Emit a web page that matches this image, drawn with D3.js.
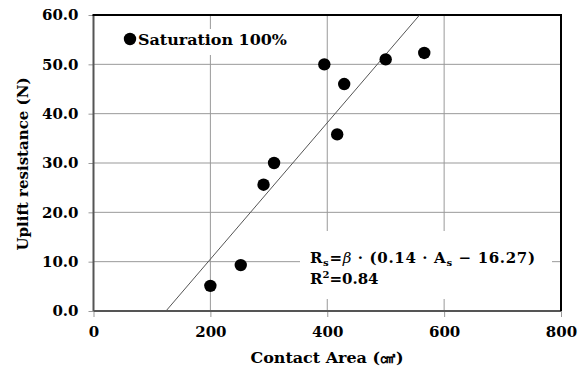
<!DOCTYPE html>
<html>
<head>
<meta charset="utf-8">
<script src="https://cdn.jsdelivr.net/npm/d3@7"></script>
<style>
  html, body { margin: 0; padding: 0; background: #fff; }
  svg { display: block; }
  text { font-family: "DejaVu Serif", "Liberation Serif", serif; font-weight: bold; fill: #000; }
</style>
</head>
<body>
<svg id="chart" width="586" height="372"></svg>
<script>
  // Data
  var contactArea = [200, 252, 291, 309, 395, 429, 417, 500, 566];
  var upliftResistance = [5.1, 9.3, 25.6, 30.0, 50.0, 46.0, 35.8, 51.0, 52.3];
  var xTicks = [0, 200, 400, 600, 800];
  var yTicks = [0, 10, 20, 30, 40, 50, 60];
  // Trend line end points (x at y = 0 and at y = 60)
  var fitX = [124, 558];
  var fitY = [0, 60];

  var svg = d3.select('#chart');
  var margin = { left: 93.5, right: 25, top: 15, bottom: 61 };
  var W = 586, H = 372;

  var x = d3.scaleLinear().domain([0, 800]).range([margin.left, W - margin.right]);
  var y = d3.scaleLinear().domain([0, 60]).range([H - margin.bottom, margin.top]);

  var GRID = '#999';

  // Gridlines
  svg.append('g')
    .selectAll('line')
    .data(xTicks.slice(1, -1))
    .join('line')
    .attr('x1', function (d) { return x(d); })
    .attr('x2', function (d) { return x(d); })
    .attr('y1', y(60)).attr('y2', y(0))
    .attr('stroke', GRID).attr('stroke-width', 1);
  svg.append('g')
    .selectAll('line')
    .data(yTicks.slice(1, -1))
    .join('line')
    .attr('x1', x(0)).attr('x2', x(800))
    .attr('y1', function (d) { return y(d); })
    .attr('y2', function (d) { return y(d); })
    .attr('stroke', GRID).attr('stroke-width', 1);

  // Axes
  var xAxis = d3.axisBottom(x).tickValues(xTicks).tickSize(6).tickPadding(9)
    .tickFormat(d3.format('d'));
  var yAxis = d3.axisLeft(y).tickValues(yTicks).tickSize(5).tickPadding(10)
    .tickFormat(d3.format('.1f'));

  var gx = svg.append('g').attr('transform', 'translate(0,' + y(0) + ')').call(xAxis);
  var gy = svg.append('g').attr('transform', 'translate(' + x(0) + ',0)').call(yAxis);
  [gx, gy].forEach(function (g) {
    g.select('.domain').remove();
    g.selectAll('.tick line').attr('stroke', GRID);
    g.selectAll('.tick text')
      .attr('font-family', '"DejaVu Serif", serif')
      .attr('font-weight', 'bold')
      .attr('font-size', 15)
      .attr('fill', '#000');
  });

  // Plot frame: gray left/bottom axes, black top/right
  svg.append('line').attr('x1', x(0)).attr('x2', x(0)).attr('y1', y(60)).attr('y2', y(0))
    .attr('stroke', '#555').attr('stroke-width', 2);
  svg.append('line').attr('x1', x(0)).attr('x2', x(800)).attr('y1', y(0)).attr('y2', y(0))
    .attr('stroke', '#555').attr('stroke-width', 2);
  svg.append('line').attr('x1', x(0) - 1).attr('x2', x(800) + 1).attr('y1', y(60)).attr('y2', y(60))
    .attr('stroke', '#000').attr('stroke-width', 2);
  svg.append('line').attr('x1', x(800)).attr('x2', x(800)).attr('y1', y(60)).attr('y2', y(0))
    .attr('stroke', '#000').attr('stroke-width', 2);

  // Equation box (white background hides grid)
  svg.append('rect').attr('x', 300).attr('y', 231).attr('width', 252).attr('height', 68)
    .attr('fill', '#fff');

  // Legend box
  svg.append('rect').attr('x', 120).attr('y', 29).attr('width', 170).attr('height', 26)
    .attr('fill', '#fff');

  // Trend line
  svg.append('line')
    .attr('x1', x(fitX[0])).attr('y1', y(fitY[0]))
    .attr('x2', x(fitX[1])).attr('y2', y(fitY[1]))
    .attr('stroke', '#555').attr('stroke-width', 1);

  // Points
  svg.append('g')
    .selectAll('circle')
    .data(contactArea)
    .join('circle')
    .attr('cx', function (d) { return x(d); })
    .attr('cy', function (d, i) { return y(upliftResistance[i]); })
    .attr('r', 6.2)
    .attr('fill', '#000');

  // Legend
  svg.append('circle').attr('cx', 130).attr('cy', 39).attr('r', 6.2).attr('fill', '#000');
  svg.append('text').attr('x', 138).attr('y', 45).attr('font-size', 15)
    .attr('textLength', 149).attr('lengthAdjust', 'spacingAndGlyphs')
    .text('Saturation 100%');

  // Equation
  var eq = svg.append('text').attr('x', 310).attr('y', 263).attr('font-size', 15);
  eq.append('tspan').text('R');
  eq.append('tspan').attr('font-size', 10).attr('dy', 3).text('s');
  eq.append('tspan').attr('dy', -3).text('=');
  eq.append('tspan').attr('font-style', 'italic').attr('font-weight', 'normal').text('\u03B2');
  eq.append('tspan').text(' \u00B7 (0.14 \u00B7 A');
  eq.append('tspan').attr('font-size', 10).attr('dy', 3).text('s');
  eq.append('tspan').attr('dy', -3).text(' \u2212 16.27)');
  eq.attr('textLength', 225).attr('lengthAdjust', 'spacing');

  var r2 = svg.append('text').attr('x', 310).attr('y', 284).attr('font-size', 15);
  r2.append('tspan').text('R');
  r2.append('tspan').attr('font-size', 10).attr('dy', -6).text('2');
  r2.append('tspan').attr('dy', 6).text('=0.84');

  // Axis titles
  svg.append('text').attr('x', 327).attr('y', 363).attr('text-anchor', 'middle')
    .attr('font-size', 15).attr('textLength', 153).attr('lengthAdjust', 'spacingAndGlyphs')
    .text('Contact Area (\u33A0)');
  svg.append('text')
    .attr('transform', 'translate(28,164) rotate(-90)')
    .attr('text-anchor', 'middle').attr('font-size', 15)
    .text('Uplift resistance (N)');
</script>
</body>
</html>
